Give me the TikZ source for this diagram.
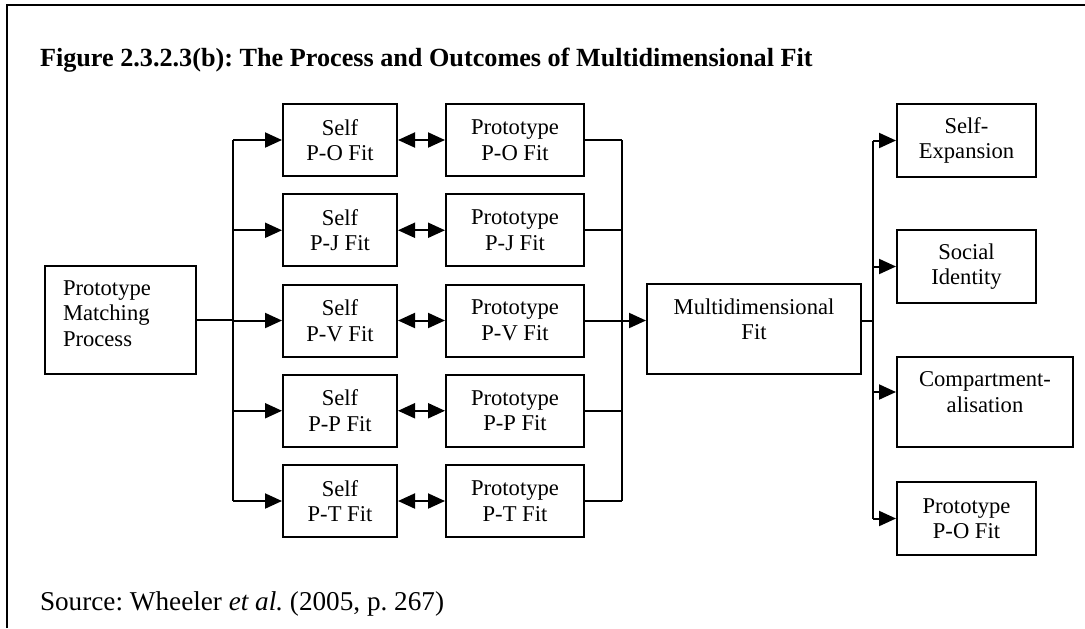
\documentclass[tikz,border=0pt]{standalone}
\usepackage{fontspec}
\setmainfont{Liberation Serif}
\usetikzlibrary{arrows.meta}
\tikzset{
  box/.style={draw,line width=1pt,inner sep=0pt,align=center,
    font=\fontsize{11.3}{12.8}\selectfont},
  tip/.style={-{Triangle[length=8.5pt,width=7.5pt]}},
  dtip/.style={{Triangle[length=8.5pt,width=7.5pt]}-{Triangle[length=8.5pt,width=7.5pt]}}
}
\frenchspacing
\begin{document}
\begin{tikzpicture}[x=0.5pt,y=-0.5pt,line width=1pt]
    \useasboundingbox (0,0) rectangle (1085,628);
    \draw (7,628) -- (7,5) -- (1085,5);
    \node[anchor=base west,inner sep=0pt,font=\fontsize{13.1}{16}\selectfont\bfseries] (title) at (39,66)
        {Figure 2.3.2.3(b): The Process and Outcomes of Multidimensional Fit};
    \node[box,minimum width=75.5pt,minimum height=54pt,text width=57.5pt,align=left] (pmp) at (120.5,320)
        {Prototype\\Matching\\Process\\[-6pt]\mbox{}};
    \node[box,minimum width=107pt,minimum height=45pt] (mdf) at (754,329) {Multidimensional\\Fit\\[-3pt]\mbox{}};
    % outcomes
    \node[box,minimum width=69.5pt,minimum height=36.5pt] (se) at (966.5,140.5) {Self-\\Expansion};
    \node[box,minimum width=69.5pt,minimum height=36.5pt] (si) at (966.5,266.5) {Social\\Identity};
    \node[box,minimum width=88pt,minimum height=45pt] (cm) at (985,402) {Compartment-\\alisation\\[-3pt]\mbox{}};
    \node[box,minimum width=69.5pt,minimum height=36.5pt] (po) at (966.5,518.5) {Prototype\\P-O Fit};
    \coordinate (bl) at (233,320);
    \coordinate (br) at (622,320);
    \coordinate (bo) at (873,320);
    % fit pairs
    \foreach \k [count=\i from 0] in {O,J,V,P,T} {
        \node[box,minimum width=57pt,minimum height=36pt] (s\k) at (340,140+90.25*\i) {Self\\P-\k{} Fit};
        \node[box,minimum width=69pt,minimum height=36pt] (p\k) at (515,140+90.25*\i) {Prototype\\P-\k{} Fit};
        \draw[dtip] (s\k) -- (p\k);
        \draw[tip] (s\k.west -| bl) -- (s\k.west);
        \draw (p\k.east) -- (p\k.east -| br);
    }
    \draw (pmp.east) -- (pmp.east -| bl);
    \draw (sO.west -| bl) -- (sT.west -| bl);
    \draw (pO.east -| br) -- (pT.east -| br);
    \draw[tip] (pV.east -| br) -- (pV.east -| mdf.west);
    \draw (pV.east -| mdf.east) -- (pV.east -| bo);
    \draw (se.west -| bo) -- (po.west -| bo);
    \draw[tip] (se.west -| bo) -- (se.west);
    \draw[tip] (si.west -| bo) -- (si.west);
    \draw[tip] ([yshift=5pt]cm.west -| bo) -- ([yshift=5pt]cm.west);
    \draw[tip] (po.west -| bo) -- (po.west);
    \node[anchor=base west,inner sep=0pt,font=\fontsize{13.6}{16}\selectfont] (src) at (39,610)
        {Source: Wheeler \textit{et al.} (2005, p. 267)};
\end{tikzpicture}
\end{document}
